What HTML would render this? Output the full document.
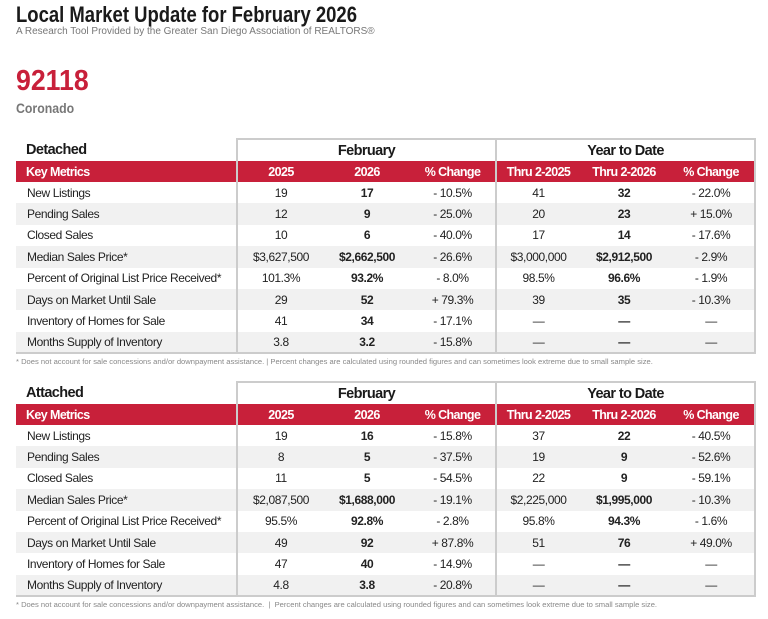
<!DOCTYPE html>
<html><head><meta charset="utf-8"><style>
*{margin:0;padding:0;box-sizing:border-box}
body{width:768px;height:619px;background:#fff;position:relative;overflow:hidden;font-family:"Liberation Sans",sans-serif;color:#222}
.t1{position:absolute;left:16px;top:2px;font-size:22px;font-weight:bold;color:#1a1a1a;transform:scaleX(0.84);transform-origin:left top;white-space:nowrap}
.t2{position:absolute;left:16px;top:26px;font-size:10px;color:#777}
.zip{position:absolute;left:16px;top:65px;font-size:29px;font-weight:bold;color:#c8203a;transform:scaleX(0.92);transform-origin:left top}
.city{position:absolute;left:16px;top:100px;font-size:14px;font-weight:bold;color:#777;transform:scaleX(0.88);transform-origin:left top}
table{position:absolute;left:16px;width:739px;border-collapse:collapse;table-layout:fixed;font-size:12px;letter-spacing:-0.4px}
td{height:21.4px;text-align:center;padding:0;white-space:nowrap}
td.l{text-align:left;padding-left:11px}
tr.h td{height:22px;font-size:14.5px;font-weight:bold;color:#1a1a1a;letter-spacing:-0.6px}
tr.h td.g{border-top:2px solid #ccc;border-left:2px solid #ccc;border-right:2px solid #ccc}
tr.h td.l{padding-left:10px}
tr.r td{background:#c8203a;color:#fff;font-weight:bold;font-size:12.5px;height:21px;letter-spacing:-0.6px}
tr.r td.l{padding-left:10px}
tr.z td{background:#f1f1f1}
td.b{font-weight:bold}
td.s{border-left:2px solid #ccc}
td.e{border-right:2px solid #ccc}
tr.last td{border-bottom:2px solid #ccc}
.fn{position:absolute;left:16px;font-size:7.6px;color:#888;white-space:nowrap}
</style></head><body>
<div class="t1">Local Market Update for February 2026</div>
<div class="t2">A Research Tool Provided by the Greater San Diego Association of REALTORS®</div>
<div class="zip">92118</div>
<div class="city">Coronado</div>

<table style="top:138px">
<colgroup><col style="width:221px"><col style="width:87px"><col style="width:86px"><col style="width:86px"><col style="width:84px"><col style="width:88px"><col style="width:87px"></colgroup>
<tr class="h"><td class="l">Detached</td><td class="g" colspan="3">February</td><td class="g" colspan="3">Year to Date</td></tr>
<tr class="r"><td class="l">Key Metrics</td><td class="s">2025</td><td>2026</td><td>% Change</td><td class="s">Thru 2-2025</td><td>Thru 2-2026</td><td class="e">% Change</td></tr>
<tr><td class="l">New Listings</td><td class="s">19</td><td class="b">17</td><td>- 10.5%</td><td class="s">41</td><td class="b">32</td><td class="e">- 22.0%</td></tr>
<tr class="z"><td class="l">Pending Sales</td><td class="s">12</td><td class="b">9</td><td>- 25.0%</td><td class="s">20</td><td class="b">23</td><td class="e">+ 15.0%</td></tr>
<tr><td class="l">Closed Sales</td><td class="s">10</td><td class="b">6</td><td>- 40.0%</td><td class="s">17</td><td class="b">14</td><td class="e">- 17.6%</td></tr>
<tr class="z"><td class="l">Median Sales Price*</td><td class="s">$3,627,500</td><td class="b">$2,662,500</td><td>- 26.6%</td><td class="s">$3,000,000</td><td class="b">$2,912,500</td><td class="e">- 2.9%</td></tr>
<tr><td class="l">Percent of Original List Price Received*</td><td class="s">101.3%</td><td class="b">93.2%</td><td>- 8.0%</td><td class="s">98.5%</td><td class="b">96.6%</td><td class="e">- 1.9%</td></tr>
<tr class="z"><td class="l">Days on Market Until Sale</td><td class="s">29</td><td class="b">52</td><td>+ 79.3%</td><td class="s">39</td><td class="b">35</td><td class="e">- 10.3%</td></tr>
<tr><td class="l">Inventory of Homes for Sale</td><td class="s">41</td><td class="b">34</td><td>- 17.1%</td><td class="s">—</td><td class="b">—</td><td class="e">—</td></tr>
<tr class="z last"><td class="l">Months Supply of Inventory</td><td class="s">3.8</td><td class="b">3.2</td><td>- 15.8%</td><td class="s">—</td><td class="b">—</td><td class="e">—</td></tr>
</table>
<div class="fn" style="top:357px">* Does not account for sale concessions and/or downpayment assistance. | Percent changes are calculated using rounded figures and can sometimes look extreme due to small sample size.</div>

<table style="top:381px">
<colgroup><col style="width:221px"><col style="width:87px"><col style="width:86px"><col style="width:86px"><col style="width:84px"><col style="width:88px"><col style="width:87px"></colgroup>
<tr class="h"><td class="l">Attached</td><td class="g" colspan="3">February</td><td class="g" colspan="3">Year to Date</td></tr>
<tr class="r"><td class="l">Key Metrics</td><td class="s">2025</td><td>2026</td><td>% Change</td><td class="s">Thru 2-2025</td><td>Thru 2-2026</td><td class="e">% Change</td></tr>
<tr><td class="l">New Listings</td><td class="s">19</td><td class="b">16</td><td>- 15.8%</td><td class="s">37</td><td class="b">22</td><td class="e">- 40.5%</td></tr>
<tr class="z"><td class="l">Pending Sales</td><td class="s">8</td><td class="b">5</td><td>- 37.5%</td><td class="s">19</td><td class="b">9</td><td class="e">- 52.6%</td></tr>
<tr><td class="l">Closed Sales</td><td class="s">11</td><td class="b">5</td><td>- 54.5%</td><td class="s">22</td><td class="b">9</td><td class="e">- 59.1%</td></tr>
<tr class="z"><td class="l">Median Sales Price*</td><td class="s">$2,087,500</td><td class="b">$1,688,000</td><td>- 19.1%</td><td class="s">$2,225,000</td><td class="b">$1,995,000</td><td class="e">- 10.3%</td></tr>
<tr><td class="l">Percent of Original List Price Received*</td><td class="s">95.5%</td><td class="b">92.8%</td><td>- 2.8%</td><td class="s">95.8%</td><td class="b">94.3%</td><td class="e">- 1.6%</td></tr>
<tr class="z"><td class="l">Days on Market Until Sale</td><td class="s">49</td><td class="b">92</td><td>+ 87.8%</td><td class="s">51</td><td class="b">76</td><td class="e">+ 49.0%</td></tr>
<tr><td class="l">Inventory of Homes for Sale</td><td class="s">47</td><td class="b">40</td><td>- 14.9%</td><td class="s">—</td><td class="b">—</td><td class="e">—</td></tr>
<tr class="z last"><td class="l">Months Supply of Inventory</td><td class="s">4.8</td><td class="b">3.8</td><td>- 20.8%</td><td class="s">—</td><td class="b">—</td><td class="e">—</td></tr>
</table>
<div class="fn" style="top:600px">* Does not account for sale concessions and/or downpayment assistance. &nbsp;| &nbsp;Percent changes are calculated using rounded figures and can sometimes look extreme due to small sample size.</div>
</body></html>
